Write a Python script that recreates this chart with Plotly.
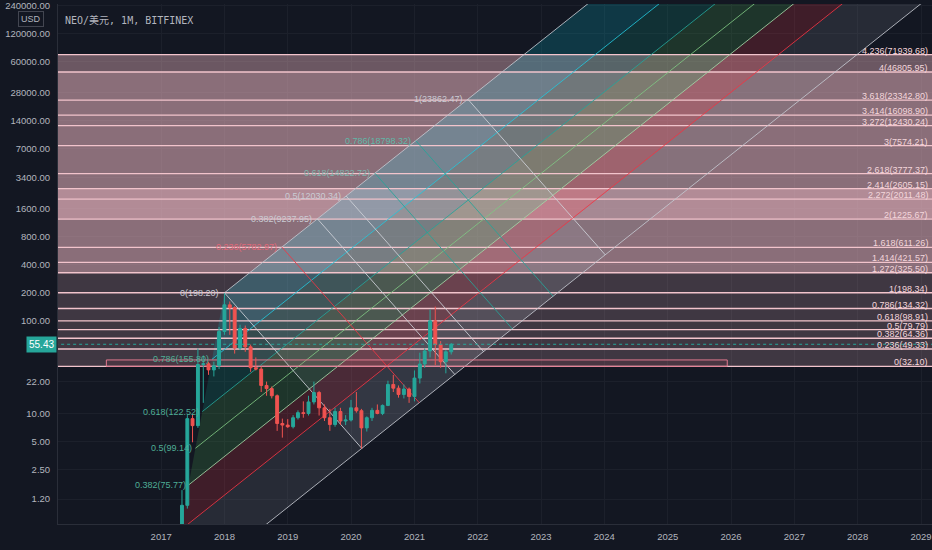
import numpy as np
import pandas as pd
import plotly.graph_objects as go

BG = "#131722"
TXT = "#b2b5be"
GRID = "#1c202b"
NARROW = "Liberation Sans, Arial, sans-serif"
MONO = "DejaVu Sans Mono, Noto Sans CJK SC, monospace"

# NEO / USD monthly candles (Bitfinex), May 2017 - Aug 2021
months = pd.date_range("2017-05-01", periods=52, freq="MS")
opens = [0.30, 1.03, 8.8, 7.4, 33.6, 34.2, 29.4, 32.5,
         76, 147, 137, 50.5, 82, 52, 31, 30, 20, 18.5, 15.5, 7.8,
         7.5, 7.2, 9.0, 10.2, 10.0, 13.3, 16.8, 11.5, 9.0, 7.6, 10.5, 8.3,
         8.5, 11.5, 10.7, 7.0, 9.0, 10.8, 10.0, 12.2, 20.5, 18.7, 16.0, 18.3,
         15.2, 24, 34, 47, 99, 55, 36, 46]
highs = [1.5, 9.6, 9.8, 50, 42, 36, 36, 85,
         196, 160, 142, 90, 88, 55, 40, 32, 22, 19.5, 16, 8.8,
         8.7, 9.6, 10.8, 13.5, 15.5, 22, 17.5, 12.5, 11.2, 11.5, 11.5, 9.6,
         14, 17, 11.2, 9.3, 11.5, 12.5, 12.5, 22.5, 26, 20, 20.5, 19,
         29, 45, 50, 131, 141, 60, 48, 57]
lows = [0.25, 0.95, 4.9, 7.0, 13, 26, 25, 30,
        70, 70, 44, 48, 46, 28, 29, 17, 15.5, 14.5, 6.5, 5.5,
        7.0, 6.9, 8.6, 9.0, 9.5, 12.5, 9.5, 8.3, 6.5, 7.2, 7.5, 7.5,
        8.2, 10.2, 4.2, 6.4, 8.3, 9.8, 9.6, 12.0, 17, 14.8, 14.5, 13,
        13.5, 21, 31, 40, 33, 31, 27, 43]
closes = [1.03, 8.8, 7.4, 33.6, 34.2, 29.4, 32.5, 76,
          147, 137, 50.5, 82, 52, 31, 30, 20, 18.5, 15.5, 7.8, 7.5,
          7.2, 9.0, 10.2, 10.0, 13.3, 16.8, 11.5, 9.0, 7.6, 10.5, 8.3, 8.5,
          11.5, 10.7, 7.0, 9.0, 10.8, 10.0, 12.2, 20.5, 18.7, 16.0, 18.3, 15.2,
          24, 34, 47, 99, 55, 36, 46, 55.43]
last_price = 55.43

# horizontal fib extension levels
fib_levels = [0, 0.236, 0.382, 0.5, 0.618, 0.786, 1, 1.272, 1.414, 1.618,
              2, 2.272, 2.414, 2.618, 3, 3.272, 3.414, 3.618, 4, 4.236]
fib_prices = [32.10, 49.33, 64.36, 79.79, 98.91, 134.32, 198.34, 325.50, 421.57, 611.26,
              1225.67, 2011.48, 2605.15, 3777.37, 7574.21, 12430.24, 16098.90, 23342.80,
              46805.95, 71939.68]
# fill opacity of the band above each level (last level has none)
band_alpha = [0.2, 0.2, 0.2, 0.2, 0.2, 0.2, 0.2, 0.54, 0.54, 0.54,
              0.72, 0.72, 0.54, 0.54, 0.54, 0.54, 0.54, 0.54, 0.4]

# fib channel: start of level 0, start of level 1, and a point giving the direction
chan_start = ("2017-01-31", 0.09)
chan_top = ("2018-01-01", 198.2)
chan_dir = ("2021-11-05", 23862.47)
chan_levels = [0, 0.236, 0.382, 0.5, 0.618, 0.786, 1]
chan_line_colors = ["#c5c8d0", "#f23645", "#a5d6a7", "#81c784", "#26a69a", "#26c6da", "#c5c8d0"]
chan_fill_colors = ["#787b86", "#f23645", "#4caf50", "#4caf50", "#089981", "#00bcd4"]
chan_label_levels = [0.382, 0.5, 0.618, 0.786]

# rotated fib box: from chan_top to chan_dir, depth down to box_corner
box_corner = ("2020-03-04", 4.2)
box_levels = [0, 0.236, 0.382, 0.5, 0.618, 0.786, 1]
box_line_colors = ["#d0d3da", "#f23645", "#d0d3da", "#d0d3da", "#26a69a", "#26a69a", "#d0d3da"]
box_text_colors = ["#c9ccd4", "#e06878", "#c9ccd4", "#c9ccd4", "#7fb5ad", "#5fb8a8", "#c9ccd4"]

# small box resting on the 0 level
rect_x = ["2016-02-20", "2025-12-10"]
rect_y = [32.10, 37.6]

x_range = ["2015-05-17", "2029-03-05"]
y_range = [-0.188, 5.401]
year_ticks = list(range(2017, 2030))
price_ticks = [1.2, 2.5, 5, 10, 22, 100, 200, 400, 800, 1600, 3400, 7000,
               14000, 28000, 60000, 120000, 240000]

EPOCH = pd.Timestamp("1970-01-01")


def pt(d, p):
    return np.array([(pd.Timestamp(d) - EPOCH) / pd.Timedelta(days=1), np.log10(p)])


def back(pts):
    xs = [EPOCH + pd.Timedelta(days=float(p[0])) for p in pts]
    ys = [10 ** p[1] for p in pts]
    return xs, ys


def rgba(hexcol, a):
    h = hexcol.lstrip("#")
    return f"rgba({int(h[0:2], 16)},{int(h[2:4], 16)},{int(h[4:6], 16)},{a})"


fig = go.Figure()

# horizontal fib bands
xl, xr = pd.Timestamp("2014-01-01"), pd.Timestamp("2031-01-01")
for i in range(len(fib_prices) - 1):
    fig.add_trace(go.Scatter(
        x=[xl, xr, xr, xl], y=[fib_prices[i], fib_prices[i], fib_prices[i + 1], fib_prices[i + 1]],
        fill="toself", fillcolor=rgba("#f0b9c3", band_alpha[i]), line=dict(width=0),
        mode="lines", hoverinfo="skip", showlegend=False))

# fib channel
A = pt(*chan_start)
B = pt(*chan_top)
U = pt(*chan_dir) - B
starts = [A + lv * (B - A) for lv in chan_levels]
ext = 4.0
for i in range(len(chan_levels) - 1):
    s1, s2 = starts[i], starts[i + 1]
    xs, ys = back([s1, s1 + ext * U, s2 + ext * U, s2])
    fig.add_trace(go.Scatter(
        x=xs, y=ys, fill="toself", fillcolor=rgba(chan_fill_colors[i], 0.2),
        line=dict(width=0), mode="lines", hoverinfo="skip", showlegend=False))

# box fill
Q = pt(*box_corner)
V = Q - B
xs, ys = back([B, B + U, B + U + V, B + V])
fig.add_trace(go.Scatter(x=xs, y=ys, fill="toself", fillcolor="rgba(200,210,225,0.08)",
                         line=dict(width=0), mode="lines", hoverinfo="skip", showlegend=False))

# horizontal level lines
hx, hy = [], []
for p in fib_prices:
    hx += [xl, xr, None]
    hy += [p, p, None]
fig.add_trace(go.Scatter(x=hx, y=hy, mode="lines", line=dict(color="#f2c4cc", width=1.3),
                         hoverinfo="skip", showlegend=False))

# channel lines
for lv, s, c in zip(chan_levels, starts, chan_line_colors):
    xs, ys = back([s, s + ext * U])
    fig.add_trace(go.Scatter(x=xs, y=ys, mode="lines", line=dict(color=c, width=1),
                             opacity=0.85, hoverinfo="skip", showlegend=False))

# box lines
for lv, c in zip(box_levels, box_line_colors):
    p0 = B + lv * U
    xs, ys = back([p0, p0 + V])
    fig.add_trace(go.Scatter(x=xs, y=ys, mode="lines", line=dict(color=c, width=1),
                             opacity=0.85, hoverinfo="skip", showlegend=False))

# rectangle on the 0 level
fig.add_trace(go.Scatter(
    x=[rect_x[0], rect_x[1], rect_x[1], rect_x[0], rect_x[0]],
    y=[rect_y[0], rect_y[0], rect_y[1], rect_y[1], rect_y[0]],
    mode="lines", line=dict(color="#e0788e", width=1), fill="toself",
    fillcolor="rgba(242,54,69,0.06)", hoverinfo="skip", showlegend=False))

# candles on an overlay so they sit above the drawings
fig.add_trace(go.Candlestick(
    x=months, open=opens, high=highs, low=lows, close=closes,
    increasing=dict(line=dict(color="#26a69a", width=1), fillcolor="#26a69a"),
    decreasing=dict(line=dict(color="#ef5350", width=1), fillcolor="#ef5350"),
    whiskerwidth=0, xaxis="x2", yaxis="y2", hoverinfo="skip", showlegend=False))
fig.add_trace(go.Scatter(x=[xl, xr], y=[last_price, last_price], mode="lines",
                         line=dict(color="#26a69a", width=1, dash="dot"),
                         xaxis="x2", yaxis="y2", hoverinfo="skip", showlegend=False))

ann = []
for lv, p in zip(fib_levels, fib_prices):
    ann.append(dict(xref="paper", yref="y", x=1, y=np.log10(p), xanchor="right", yanchor="bottom",
                    xshift=-2, yshift=-3, text=f"{lv}({p:.2f})", showarrow=False,
                    font=dict(family=NARROW, size=9, color="#f3d6db")))

for lv, s in zip(chan_levels, starts):
    if lv not in chan_label_levels:
        continue
    price = chan_start[1] + lv * (chan_top[1] - chan_start[1])
    d = EPOCH + pd.Timedelta(days=float(s[0]))
    ann.append(dict(x=d, y=s[1], xanchor="right", yanchor="middle", xshift=-1,
                    text=f"{lv}({price:.2f})", showarrow=False,
                    font=dict(family=NARROW, size=9, color="#4fae96")))

for lv, c in zip(box_levels, box_text_colors):
    p0 = B + lv * U
    price = chan_top[1] + lv * (chan_dir[1] - chan_top[1])
    d = EPOCH + pd.Timedelta(days=float(p0[0]))
    ann.append(dict(x=d, y=p0[1], xanchor="right", yanchor="middle", xshift=-3,
                    text=f"{lv}({price:.2f})", showarrow=False,
                    font=dict(family=NARROW, size=9, color=c)))

ann.append(dict(xref="paper", yref="paper", x=0.006, y=0.97, xanchor="left", yanchor="middle",
                text="NEO/美元, 1M, BITFINEX", showarrow=False,
                font=dict(family=MONO, size=10, color=TXT)))
ann.append(dict(xref="paper", yref="paper", x=-0.031, y=0.971, xanchor="center", yanchor="middle",
                text="USD", showarrow=False, bordercolor="#434651", borderwidth=1, borderpad=2,
                font=dict(family=NARROW, size=9, color=TXT)))
ann.append(dict(xref="paper", yref="y", x=0, y=np.log10(last_price), xanchor="right",
                yanchor="middle", xshift=-1, text=f"{last_price:.2f}", showarrow=False,
                bgcolor="#26a69a", borderpad=2,
                font=dict(family=NARROW, size=10, color="#ffffff")))

axis_common = dict(showline=True, linecolor="#2a2e39", zeroline=False)
fig.update_layout(
    width=932, height=550,
    margin=dict(l=58, r=0, t=0, b=26),
    paper_bgcolor=BG, plot_bgcolor=BG,
    showlegend=False,
    boxgap=0.15,
    xaxis=dict(type="date", range=x_range, tickvals=[f"{y}-01-01" for y in year_ticks],
               ticktext=[str(y) for y in year_ticks], gridcolor=GRID, rangeslider=dict(visible=False),
               ticklabelstandoff=4,
               tickfont=dict(family=NARROW, size=9.5, color=TXT), **axis_common),
    yaxis=dict(type="log", range=y_range, tickvals=price_ticks,
               ticktext=[f"{v:.2f}" for v in price_ticks], gridcolor=GRID, side="left",
               ticklabelstandoff=5, ticklabeloverflow="allow",
               tickfont=dict(family=NARROW, size=9.5, color=TXT), **axis_common),
    xaxis2=dict(type="date", range=x_range, overlaying="x", visible=False,
                rangeslider=dict(visible=False)),
    yaxis2=dict(type="log", range=y_range, overlaying="y", visible=False),
    annotations=ann,
)

fig.write_html("out.html", config={"displayModeBar": False},
               post_script="document.body.style.margin='0';")
